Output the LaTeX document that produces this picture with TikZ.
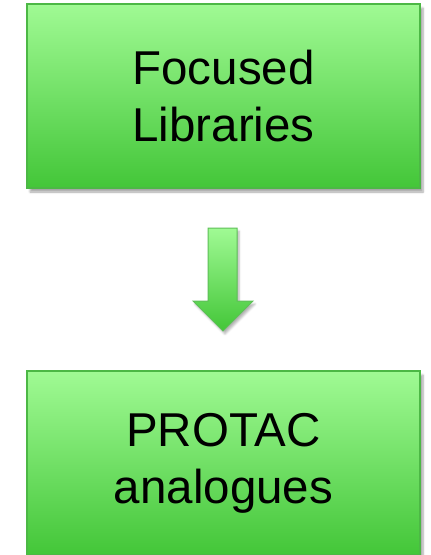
\documentclass[tikz,border=0pt]{standalone}
\usepackage{fontspec}
\setmainfont{Liberation Sans}
\usetikzlibrary{shadows.blur}
\definecolor{gtop}{HTML}{A0FA94}
\definecolor{gbot}{HTML}{43C638}
\definecolor{gline}{HTML}{4CB845}
\tikzset{
  greenbox/.style={draw=gline, line width=2pt, top color=gtop, bottom color=gbot,
    minimum width=393pt, minimum height=184pt, inner sep=0pt,
    align=center, font=\fontsize{47.5pt}{57pt}\selectfont,
    blur shadow={shadow xshift=3pt, shadow yshift=-4pt, shadow blur steps=6, shadow opacity=35}},
  greenarrow/.style={draw=gline!90!white, line width=1pt, top color=gtop, bottom color=gbot,
    blur shadow={shadow xshift=2pt, shadow yshift=-3pt, shadow blur steps=5, shadow opacity=30}}
}
\begin{document}
\begin{tikzpicture}[x=1pt,y=-1pt]
\useasboundingbox (0,0) rectangle (431,555);
\node[greenbox] (lib) at (223.5,96) {Focused\\Libraries};
\node[greenbox] (pro) at (223.5,463) {PROTAC\\analogues};
\coordinate (a1) at (208,228);
\coordinate (a2) at (237,228);
\coordinate (a3) at (237,301);
\coordinate (a4) at (253,301);
\coordinate (tip) at (223,331);
\coordinate (a6) at (193,301);
\coordinate (a7) at (208,301);
\path[greenarrow] (a1) -- (a2) -- (a3) -- (a4) -- (tip) -- (a6) -- (a7) -- cycle;
\end{tikzpicture}
\end{document}
